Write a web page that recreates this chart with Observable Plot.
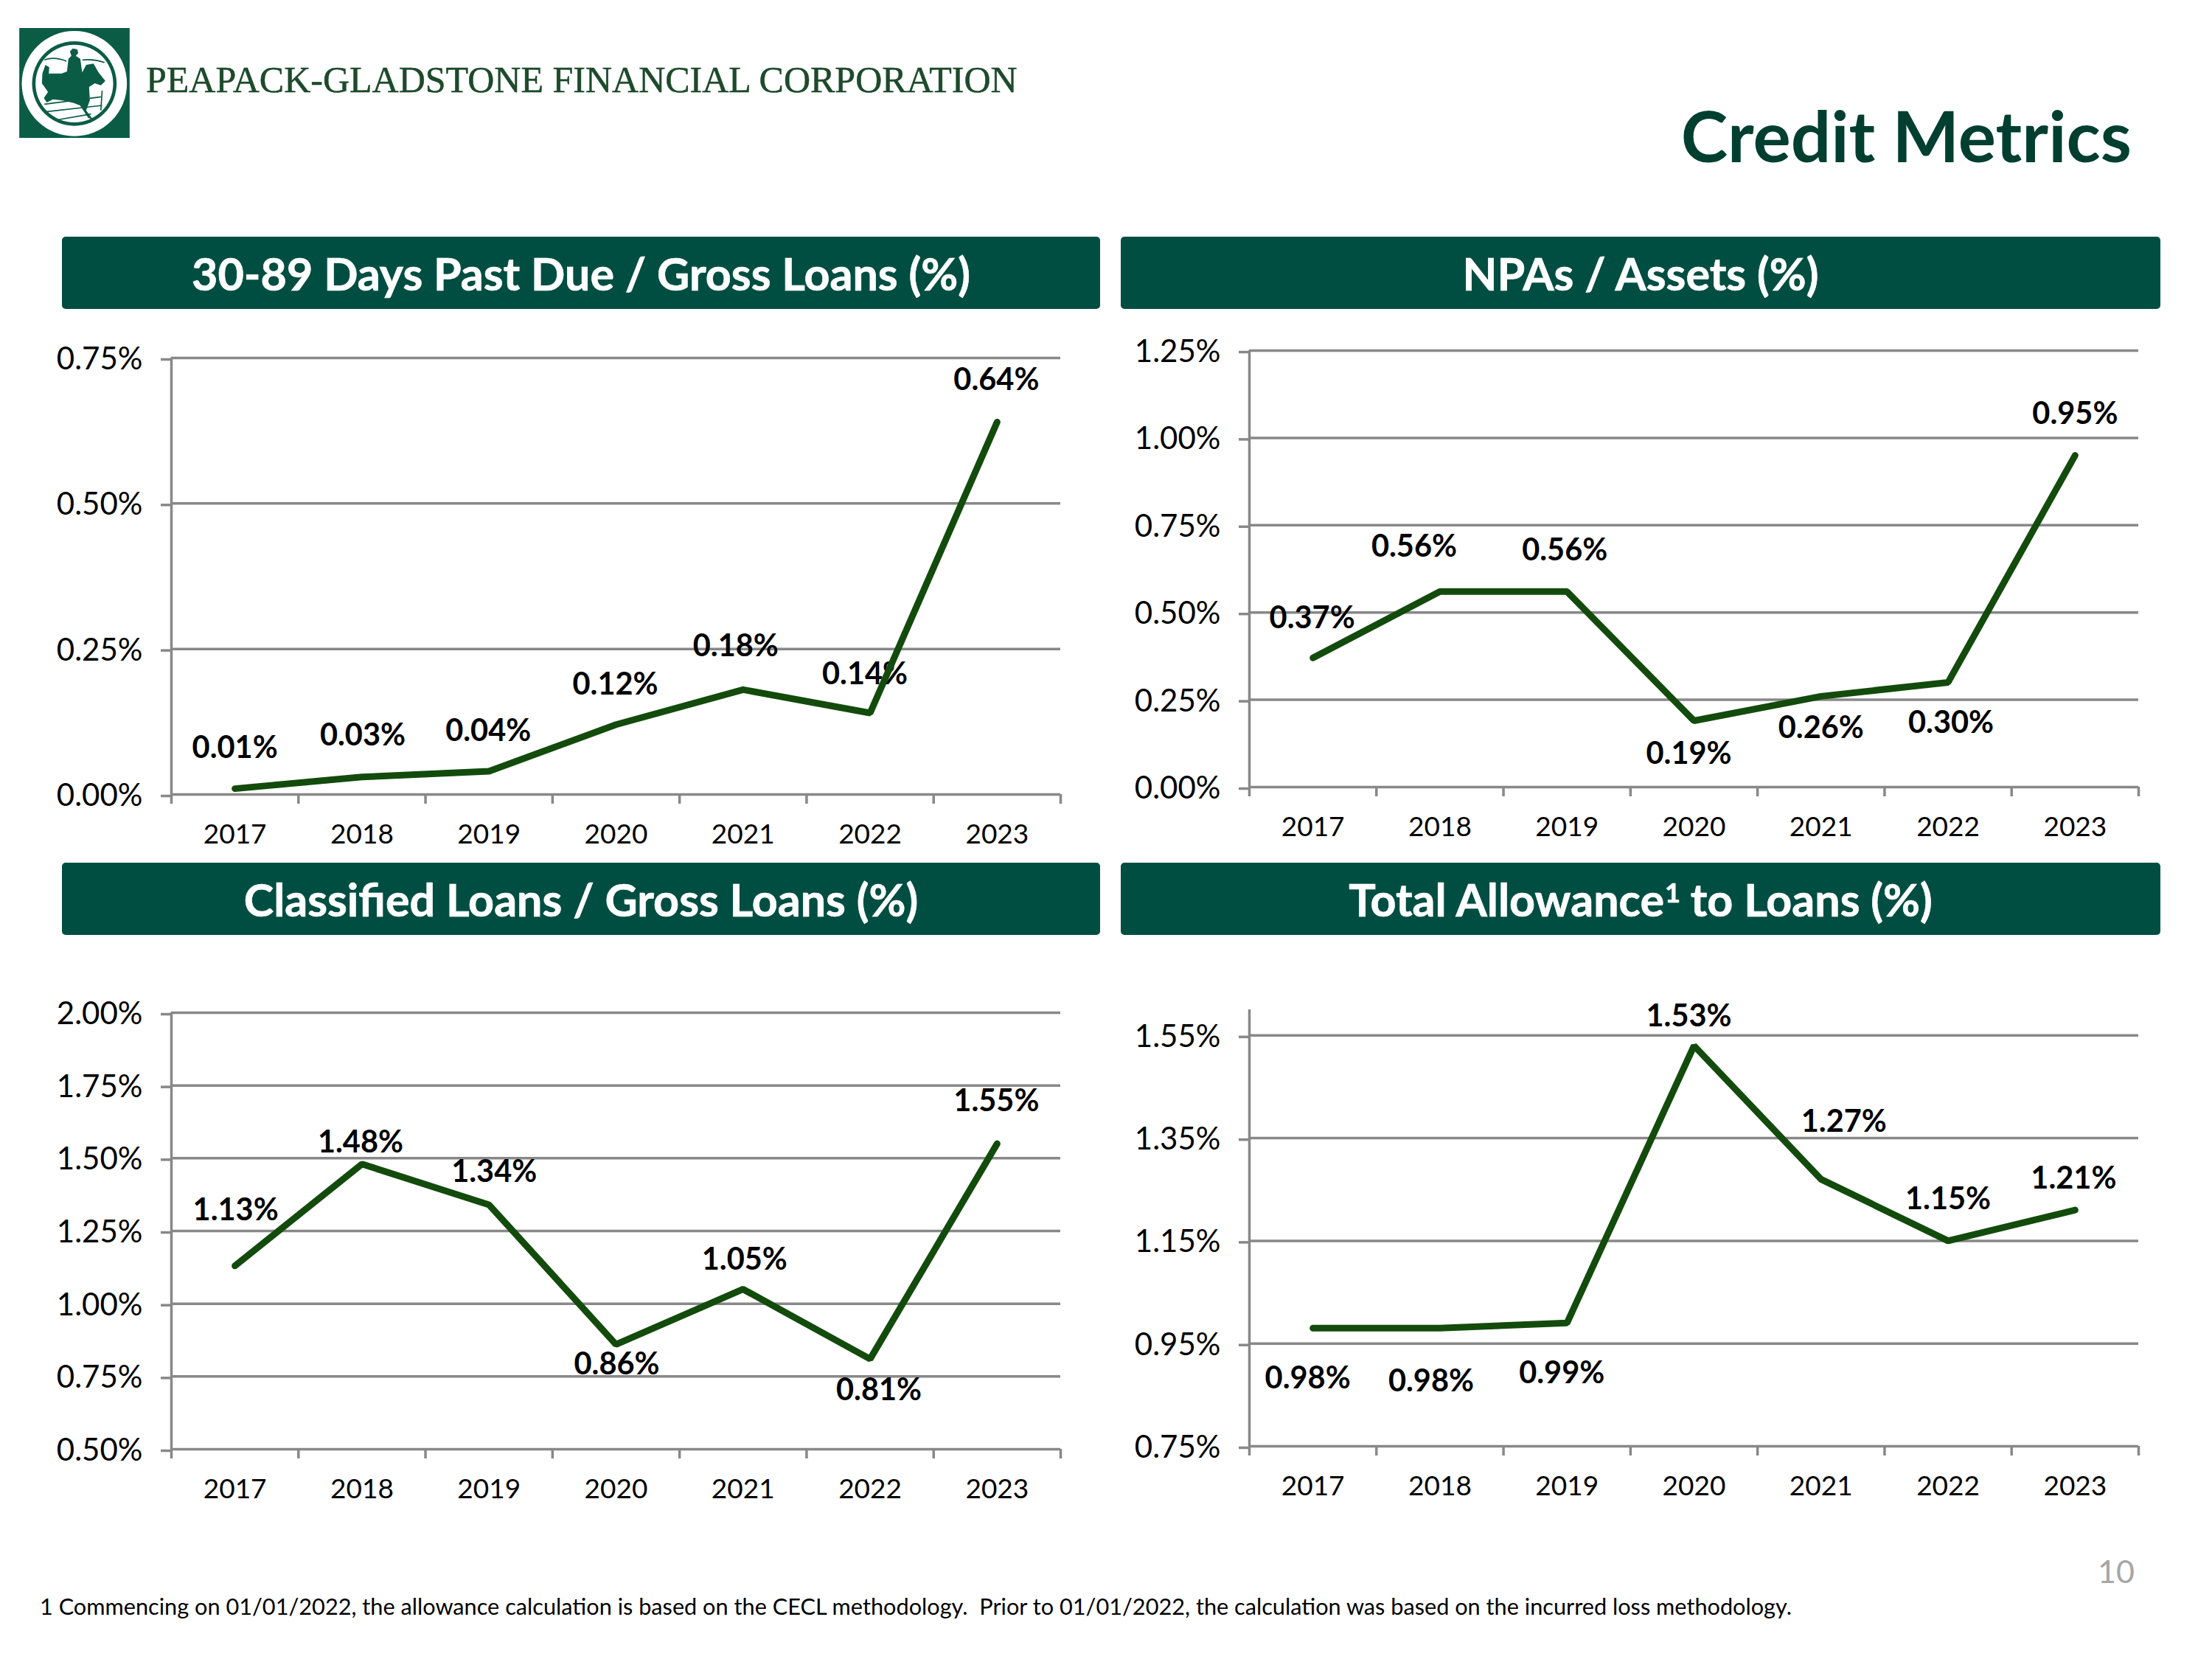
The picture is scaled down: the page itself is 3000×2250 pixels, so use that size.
<!DOCTYPE html>
<html>
<head>
<meta charset="utf-8">
<script src="https://cdn.jsdelivr.net/npm/d3@7"></script>
<script src="https://cdn.jsdelivr.net/npm/@observablehq/plot@0.6"></script>
<style>
html,body{margin:0;padding:0;background:#fff;}
#page{position:relative;width:3000px;height:2250px;overflow:hidden;font-family:Lato,sans-serif;background:#fff;}
.abs{position:absolute;white-space:nowrap;}
.hdr{position:absolute;background:#004e42;border-radius:5px;color:#fff;font-weight:700;font-size:61px;display:flex;align-items:center;justify-content:center;white-space:pre;-webkit-text-stroke:0.7px #fff;}
.hdr span.s{font-size:36px;line-height:36px;align-self:flex-start;margin-top:22px;margin-left:1px;margin-right:14px;}
.panel{position:absolute;}
.panel svg{background:transparent;overflow:visible;}
</style>
</head>
<body>
<div id="page"></div>
<script>
const years = [2017, 2018, 2019, 2020, 2021, 2022, 2023];

const pastDue = [0.01, 0.03, 0.04, 0.12, 0.18, 0.14, 0.64];
const npas = [0.37, 0.56, 0.56, 0.19, 0.26, 0.30, 0.95];
const classified = [1.13, 1.48, 1.34, 0.86, 1.05, 0.81, 1.55];
const allowance = [0.98, 0.98, 0.99, 1.53, 1.27, 1.15, 1.21];

const pastDueTicks = [0, 0.25, 0.5, 0.75];
const npasTicks = [0, 0.25, 0.5, 0.75, 1, 1.25];
const classifiedTicks = [0.5, 0.75, 1, 1.25, 1.5, 1.75, 2];
const allowanceTicks = [0.75, 0.95, 1.15, 1.35, 1.55];

const pastDueDomain = [0, 0.75];
const npasDomain = [0, 1.25];
const classifiedDomain = [0.5, 2];
const allowanceDomain = [0.75, 1.6];

const pageTitle = "Credit Metrics";
const companyName = "PEAPACK-GLADSTONE FINANCIAL CORPORATION";
const footnote = "1 Commencing on 01/01/2022, the allowance calculation is based on the CECL methodology.  Prior to 01/01/2022, the calculation was based on the incurred loss methodology.";
const pageNumber = "10";

// label nudges, in pixels from each point
const pastDueNudge = [[0,-55],[1,-56],[-1,-54],[-1,-54],[-10,-59],[-7,-52],[-1,-57]];
const npasNudge = [[-1,-54],[-35,-61],[-3,-56],[-7,45],[0,43],[4,55],[0,-56]];
const classifiedNudge = [[1,-75],[-2,-29],[7,-44],[1,27],[2,-40],[12,43],[-1,-57]];
const allowanceNudge = [[-7,68],[-12,72],[-7,68],[-7,-40],[31,-78],[0,-56],[-2,-42]];

const page = document.getElementById("page");
const pct = d => d.toFixed(2) + "%";
const GREY = "#888888", LINE = "#134b0d";
const M = {l: 180, r: 40, t: 40, b: 80}, PW = 1206, PH = 592;

function panel(values, ticks, domain, nudge, left, top) {
  const rows = years.map((year, i) => ({year, value: values[i]}));
  const boundaries = [...years.map(y => y - 0.5), years[years.length - 1] + 0.5];
  const labels = rows.map((d, i) => Plot.text([d], {
    x: "year", y: "value", text: r => pct(r.value),
    dx: nudge[i][0], dy: nudge[i][1],
    fontSize: 41.5, fontWeight: 700, fill: "#000", lineAnchor: "middle", textAnchor: "middle"
  }));
  const svg = Plot.plot({
    width: PW + M.l + M.r, height: PH + M.t + M.b,
    marginLeft: M.l, marginRight: M.r, marginTop: M.t, marginBottom: M.b,
    style: {fontFamily: "Lato, sans-serif", background: "transparent", color: "#000"},
    x: {type: "linear", domain: [boundaries[0], boundaries[boundaries.length - 1]], label: null},
    y: {type: "linear", domain, label: null},
    marks: [
      Plot.gridY(ticks, {stroke: GREY, strokeOpacity: 1, strokeWidth: 3.5}),
      Plot.ruleX([boundaries[0]], {stroke: GREY, strokeWidth: 3.5}),
      Plot.axisY({ticks, tickSize: 14, tickPadding: 25, stroke: GREY, strokeWidth: 3.5, strokeOpacity: 1,
        fill: "#000", fontSize: 42, dy: 2, label: null, tickFormat: pct}),
      Plot.axisX({ticks: boundaries, tickSize: 13, stroke: GREY, strokeWidth: 3.5, strokeOpacity: 1,
        tickFormat: () => "", label: null}),
      Plot.axisX({ticks: years, tickSize: 0, tickPadding: 40, fill: "#000", fontSize: 37,
        tickFormat: d => String(d), label: null}),
      ...labels,
      Plot.line(rows, {x: "year", y: "value", stroke: LINE, strokeWidth: 9,
        strokeLinecap: "round", strokeLinejoin: "miter"})
    ]
  });
  const holder = document.createElement("div");
  holder.className = "panel";
  holder.style.left = (left - M.l) + "px";
  holder.style.top = (top - M.t) + "px";
  holder.appendChild(svg);
  page.appendChild(holder);
}

function header(html, left, top, w, h) {
  const d = document.createElement("div");
  d.className = "hdr";
  Object.assign(d.style, {left: left + "px", top: top + "px", width: w + "px", height: h + "px"});
  d.innerHTML = html;
  page.appendChild(d);
}
function textAt(text, css) {
  const d = document.createElement("div");
  d.className = "abs";
  d.textContent = text;
  Object.assign(d.style, css);
  page.appendChild(d);
}

// logo
const logo = document.createElement("div");
logo.className = "abs";
logo.style.left = "26px"; logo.style.top = "38px";
logo.innerHTML = `<svg width="150" height="149" viewBox="78 55 449 447" xmlns="http://www.w3.org/2000/svg">
<rect x="78" y="55" width="449" height="447" fill="#0b5c45"/>
<ellipse cx="302" cy="281" rx="214" ry="214" fill="#fff"/>
<ellipse cx="302" cy="281" rx="172" ry="172" fill="#0b5c45"/>
<ellipse cx="302" cy="281" rx="158" ry="158" fill="#fff"/>
<path fill="#0b5c45" d="M184 205 L200 215 L198 240 L250 240 L272 232 L278 180 L290 168 L284 150 L296 138 L314 142 L318 156 L308 168 L326 180 L334 236 L350 205 L380 200 L400 235 L428 270 L410 288 L385 280 L362 295 L365 350 L350 390 L378 428 L358 420 L325 370 L300 360 L255 350 L215 345 L190 358 L178 340 L195 315 L170 280 L172 240 Z"/>
<path fill="none" stroke="#0b5c45" stroke-width="5" d="M180 365 L410 335 M190 395 L415 370 M225 430 L370 405 M415 310 L410 390 M180 185 Q220 170 270 190 M335 185 Q380 180 425 195"/>
</svg>`;
page.appendChild(logo);

textAt(companyName, {left: "198px", top: "78px", fontFamily: "'Liberation Serif',serif", fontSize: "50px",
  color: "#1d4a2b", lineHeight: "60px", webkitTextStroke: "0.5px #1d4a2b"});
textAt(pageTitle, {right: "109px", top: "128px", fontWeight: 700, fontSize: "96px", color: "#003f2f", lineHeight: "110px"});

header("30-89 Days Past Due / Gross Loans (%)", 84, 321, 1408, 98);
header("NPAs / Assets (%)", 1520, 321, 1410, 98);
header("Classified Loans / Gross Loans (%)", 84, 1170, 1408, 98);
header('Total Allowance<span class="s">1</span>to Loans (%)', 1520, 1170, 1410, 98);

panel(pastDue, pastDueTicks, pastDueDomain, pastDueNudge, 232, 485);
panel(npas, npasTicks, npasDomain, npasNudge, 1694, 475);
panel(classified, classifiedTicks, classifiedDomain, classifiedNudge, 232, 1373);
panel(allowance, allowanceTicks, allowanceDomain, allowanceNudge, 1694, 1369);

textAt(pageNumber, {left: "2845px", top: "2106px", fontSize: "43px", color: "#a6a6a6", lineHeight: "50px"});
textAt(footnote, {left: "54px", top: "2162px", fontSize: "30.7px", color: "#000", lineHeight: "34px", whiteSpace: "pre"});
</script>
</body>
</html>
